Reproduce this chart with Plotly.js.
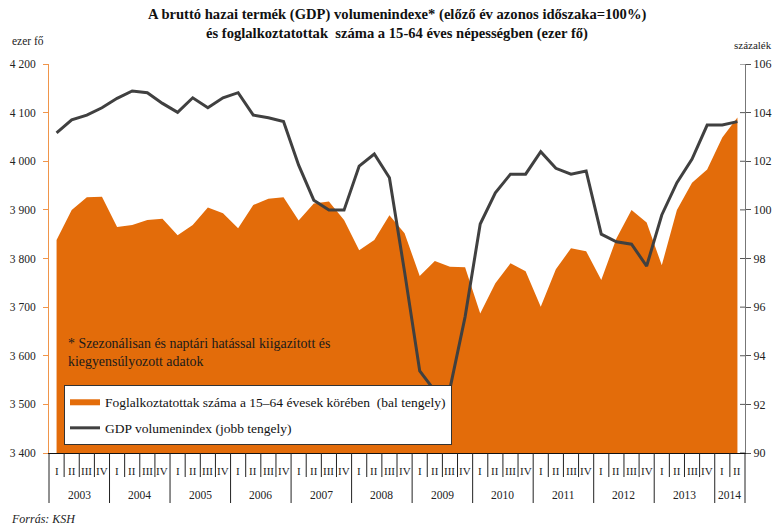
<!DOCTYPE html>
<html>
<head>
<meta charset="utf-8">
<script src="https://cdn.plot.ly/plotly-3.0.1.min.js"></script>
<style>html,body{margin:0;padding:0;background:#fff;}#chart{width:776px;height:525px;}</style>
</head>
<body>
<div id="chart"></div>
<script>
// ---- data ----
const years = ['2003','2004','2005','2006','2007','2008','2009','2010','2011','2012','2013','2014'];
const quartersPerYear = [4,4,4,4,4,4,4,4,4,4,4,2];
const quarterNames = ['I','II','III','IV'];

const employment = [3838,3900,3926,3927, 3865,3869,3879,3882, 3848,3869,3905,3893, 3862,3910,3923,3926,
  3878,3913,3917,3879, 3817,3838,3889,3852, 3764,3795,3783,3782, 3687,3749,3790,3774,
  3701,3778,3821,3815, 3756,3841,3900,3874, 3786,3900,3956,3983, 4049,4090];

const gdp = [103.17,103.70,103.90,104.20, 104.59,104.89,104.82,104.38, 104.01,104.61,104.20,104.61,
  104.82,103.90,103.79,103.63, 101.84,100.40,99.99,99.99, 101.80,102.30,101.32,97.45,
  93.38,92.55,92.65,95.60, 99.42,100.70,101.47,101.47, 102.39,101.71,101.47,101.60,
  99.00,98.69,98.59,97.69, 99.79,101.12,102.09,103.49, 103.49,103.63];

const leftTickVals = [3400,3500,3600,3700,3800,3900,4000,4100,4200];
const leftTickText = ['3 400','3 500','3 600','3 700','3 800','3 900','4 000','4 100','4 200'];
const rightTickVals = [90,92,94,96,98,100,102,104,106];

const seriesNames = ['Foglalkoztatottak száma a 15–64 évesek körében  (bal tengely)', 'GDP volumenindex (jobb tengely)'];
const titleLines = ['A bruttó hazai termék (GDP) volumenindexe* (előző év azonos időszaka=100%)',
  'és foglalkoztatottak  száma a 15-64 éves népességben (ezer fő)'];
const noteText = '* Szezonálisan és naptári hatással kiigazított és<br>kiegyensúlyozott adatok';

// ---- build ----
const FONT = 'Liberation Serif, DejaVu Serif, serif';
const nQ = employment.length;
const x = employment.map((_, i) => i);
const qLabels = [];
quartersPerYear.forEach(n => { for (let k = 0; k < n; k++) qLabels.push(quarterNames[k]); });

const traces = [
  {x: x, y: employment, type: 'scatter', mode: 'lines', fill: 'tozeroy',
   fillcolor: '#E36C0A', line: {width: 0, color: '#E36C0A'}, name: seriesNames[0],
   legendgroup: 'a', hoverinfo: 'skip'},
  {x: x, y: gdp, type: 'scatter', mode: 'lines', yaxis: 'y2',
   line: {width: 3, color: '#404040'}, name: seriesNames[1], legendgroup: 'b', hoverinfo: 'skip'}
];

const L = 49, R = 745, T = 64, B = 453, W = 776, H = 525;
const pw = R - L, ph = B - T;
const xp = px => (px - L) / pw;
const yp = py => (B - py) / ph;

const annotations = [];
const shapes = [];
// quarter labels
qLabels.forEach((q, i) => {
  annotations.push({x: i, xref: 'x', y: yp(471), yref: 'paper', text: q, showarrow: false,
    font: {family: FONT, size: 11, color: '#222'}, xanchor: 'center', yanchor: 'middle'});
});
// separators and year labels
let idx = 0;
shapes.push({type: 'line', xref: 'paper', yref: 'paper', x0: 0, x1: 0, y0: 0, y1: yp(503), line: {color: '#222', width: 1}});
years.forEach((yr, j) => {
  const n = quartersPerYear[j];
  for (let k = 1; k <= n; k++) {
    const b = (idx + k) / nQ;
    const isYear = k === n;
    shapes.push({type: 'line', xref: 'paper', yref: 'paper', x0: b, x1: b, y0: 0,
      y1: isYear ? yp(503) : yp(477), line: {color: '#222', width: 1}});
  }
  annotations.push({x: (idx + n / 2) / nQ, xref: 'paper', y: yp(495), yref: 'paper', text: yr,
    showarrow: false, font: {family: FONT, size: 11.5, color: '#222'}, xanchor: 'center', yanchor: 'middle'});
  idx += n;
});
// right-axis crossing ticks (inner part)
rightTickVals.forEach(v => {
  shapes.push({type: 'line', xref: 'paper', yref: 'y2', x0: 1 - 5 / pw, x1: 1, y0: v, y1: v,
    line: {color: '#555', width: 1}});
});

annotations.push({x: 0.5, xref: 'paper', y: yp(15), yref: 'paper', text: '<b>' + titleLines[0] + '</b>',
  showarrow: false, font: {family: FONT, size: 14.6, color: '#111'}, xanchor: 'center', yanchor: 'middle'});
annotations.push({x: 0.5, xref: 'paper', y: yp(33), yref: 'paper', text: '<b>' + titleLines[1] + '</b>',
  showarrow: false, font: {family: FONT, size: 14.6, color: '#111'}, xanchor: 'center', yanchor: 'middle'});
annotations.push({x: xp(10), xref: 'paper', y: yp(41), yref: 'paper', text: 'ezer fő', showarrow: false,
  font: {family: FONT, size: 11.5, color: '#222'}, xanchor: 'left', yanchor: 'middle'});
annotations.push({x: xp(774), xref: 'paper', y: yp(45), yref: 'paper', text: 'százalék', showarrow: false,
  font: {family: FONT, size: 11, color: '#222'}, xanchor: 'right', yanchor: 'middle'});
annotations.push({x: xp(66), xref: 'paper', y: yp(352), yref: 'paper', text: noteText, showarrow: false, align: 'left',
  font: {family: FONT, size: 13.9, color: '#1a1a1a'}, xanchor: 'left', yanchor: 'middle'});
annotations.push({x: xp(9), xref: 'paper', y: yp(519), yref: 'paper', text: '<i>Forrás: KSH</i>', showarrow: false,
  font: {family: FONT, size: 12, color: '#222'}, xanchor: 'left', yanchor: 'middle'});

const layout = {
  width: W, height: H,
  margin: {l: L, r: W - R, t: T, b: H - B, pad: 0},
  paper_bgcolor: '#fff', plot_bgcolor: '#fff',
  showlegend: true,
  legend: {x: xp(64), y: yp(385), xanchor: 'left', yanchor: 'top', bgcolor: '#fff',
    bordercolor: '#333', borderwidth: 1, font: {family: FONT, size: 13.5, color: '#111'},
    traceorder: 'grouped', tracegroupgap: 6, itemwidth: 30},
  xaxis: {range: [-0.5, nQ - 0.5], showgrid: false, zeroline: false, showticklabels: false, ticks: '',
    showline: true, linecolor: '#111', linewidth: 1, fixedrange: true},
  yaxis: {range: [3400, 4200], tickvals: leftTickVals, ticktext: leftTickText, showgrid: false, zeroline: false,
    showline: true, linecolor: '#F0954A', linewidth: 1, ticks: 'outside', ticklen: 5, tickcolor: '#F0954A',
    tickfont: {family: FONT, size: 11.5, color: '#222'}, ticklabelstandoff: 5},
  yaxis2: {range: [90, 106], tickvals: rightTickVals, overlaying: 'y', side: 'right', showgrid: false, zeroline: false,
    showline: true, linecolor: '#777', linewidth: 1, ticks: 'outside', ticklen: 5, tickcolor: '#555',
    tickfont: {family: FONT, size: 12, color: '#222'}},
  annotations: annotations,
  shapes: shapes
};

Plotly.newPlot('chart', traces, layout, {staticPlot: true, displayModeBar: false});
</script>
</body>
</html>
